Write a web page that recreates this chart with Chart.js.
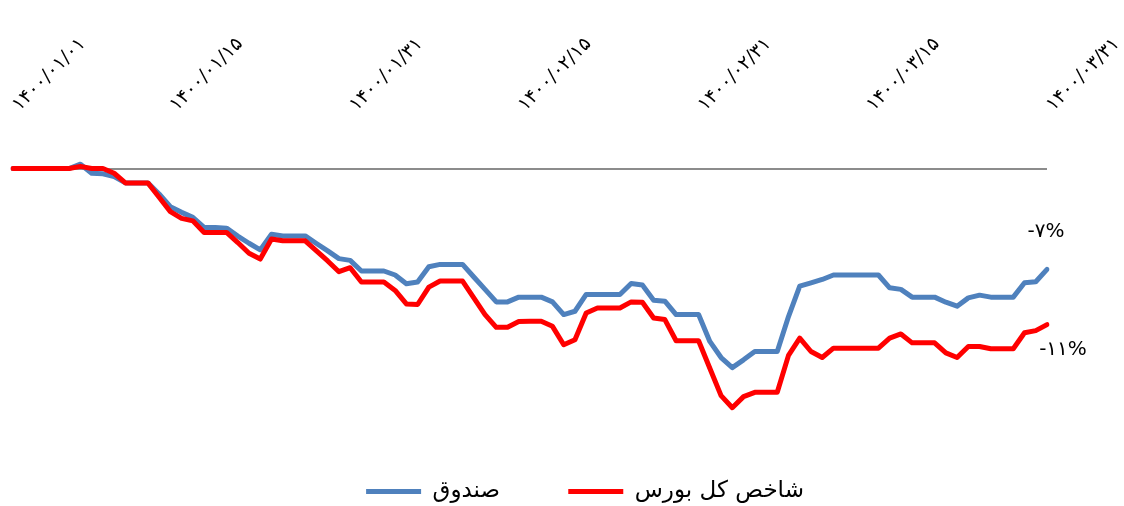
<!DOCTYPE html>
<html lang="fa" dir="ltr">
<head>
<meta charset="utf-8">
<title>صندوق و شاخص کل بورس</title>
<script src="https://cdn.jsdelivr.net/npm/chart.js@4.4.1/dist/chart.umd.min.js"></script>
<style>
  html, body { margin: 0; padding: 0; background: #fff; }
  #wrap { width: 1124px; height: 506px; position: relative; }
</style>
</head>
<body>
<div id="wrap"><canvas id="chart"></canvas></div>
<script>
// categories: every day from 1400/01/01 to 1400/03/31
const months = ['01', '02', '03'];
const toFa = s => s.replace(/\d/g, d => '۰۱۲۳۴۵۶۷۸۹'[d]);
const dates = [];
months.forEach(m => {
    for (let d = 1; d <= 31; d++) dates.push(toFa('1400/' + m + '/' + String(d).padStart(2, '0')));
});

// only these dates get a label on the axis
const shownDates = ['۱۴۰۰/۰۱/۰۱', '۱۴۰۰/۰۱/۱۵', '۱۴۰۰/۰۱/۳۱', '۱۴۰۰/۰۲/۱۵', '۱۴۰۰/۰۲/۳۱', '۱۴۰۰/۰۳/۱۵', '۱۴۰۰/۰۳/۳۱'];

const seriesNames = ['صندوق', 'شاخص کل بورس'];

// cumulative return, percent
const fund = [
    0, 0, 0, 0, 0, 0, 0.3, -0.33, -0.37, -0.56,
    -1.0, -1.0, -1.0, -1.77, -2.66, -3.05, -3.4, -4.1, -4.1, -4.15,
    -4.7, -5.2, -5.66, -4.57, -4.69, -4.69, -4.69, -5.22, -5.73, -6.27,
    -6.39, -7.13, -7.13, -7.13, -7.41, -8.02, -7.9, -6.83, -6.67, -6.67,
    -6.67, -7.55, -8.41, -9.28, -9.28, -8.95, -8.95, -8.95, -9.28, -10.16,
    -9.93, -8.76, -8.76, -8.76, -8.76, -8.0, -8.11, -9.16, -9.23, -10.16,
    -10.16, -10.16, -12.03, -13.15, -13.85, -13.31, -12.73, -12.73, -12.73, -10.3,
    -8.18, -7.95, -7.72, -7.41, -7.41, -7.41, -7.41, -7.41, -8.3, -8.41,
    -8.95, -8.95, -8.95, -9.3, -9.58, -9.0, -8.81, -8.95, -8.95, -8.95,
    -7.95, -7.88, -7.02
];

const index = [
    0, 0, 0, 0, 0, 0, 0.15, 0, 0, -0.33,
    -1.0, -1.0, -1.0, -2.0, -3.0, -3.47, -3.64, -4.45, -4.45, -4.45,
    -5.15, -5.9, -6.3, -4.9, -5.03, -5.03, -5.03, -5.73, -6.43, -7.18,
    -6.9, -7.9, -7.9, -7.9, -8.48, -9.42, -9.46, -8.25, -7.83, -7.83,
    -7.83, -9.0, -10.16, -11.05, -11.05, -10.65, -10.63, -10.63, -10.98, -12.26,
    -11.91, -10.05, -9.7, -9.7, -9.7, -9.28, -9.3, -10.4, -10.51, -11.98,
    -11.98, -11.98, -13.9, -15.8, -16.64, -15.87, -15.57, -15.57, -15.57, -13.0,
    -11.8, -12.73, -13.15, -12.5, -12.5, -12.5, -12.5, -12.5, -11.8, -11.51,
    -12.13, -12.13, -12.13, -12.83, -13.15, -12.38, -12.38, -12.54, -12.54, -12.54,
    -11.43, -11.28, -10.86
];

// text written at the end of each line
const endLabels = ['-۷%', '-۱۱%'];

const FONT = '"DejaVu Sans", sans-serif';

const endLabelPlugin = {
    id: 'endLabels',
    afterDatasetsDraw(chart) {
        const ctx = chart.ctx;
        const offsets = [[-1, -38], [16, 25]];
        ctx.save();
        ctx.font = '20px ' + FONT;
        ctx.fillStyle = '#000';
        ctx.textAlign = 'center';
        ctx.textBaseline = 'middle';
        chart.data.datasets.forEach((ds, i) => {
            const pts = chart.getDatasetMeta(i).data;
            const p = pts[pts.length - 1];
            ctx.fillText(endLabels[i], p.x + offsets[i][0], p.y + offsets[i][1]);
        });
        ctx.restore();
    }
};

// nudge the legend down/right a bit, like the excel original
const legendShift = {
    id: 'legendShift',
    afterLayout(chart) {
        const lg = chart.legend;
        lg.top += 7; lg.bottom += 7;
        lg.left += 55; lg.right += 55;
    }
};

const ctx = document.getElementById('chart');

let returnChart = new Chart(ctx, {
    type: 'line',
    data: {
        labels: dates,
        datasets: [
            {
                label: seriesNames[0],
                data: fund,
                borderColor: '#4F81BD',
                backgroundColor: '#4F81BD',
                borderWidth: 5,
                borderCapStyle: 'round',
                borderJoinStyle: 'round',
                pointRadius: 0,
                order: 2
            },
            {
                label: seriesNames[1],
                data: index,
                borderColor: '#FF0000',
                backgroundColor: '#FF0000',
                borderWidth: 5,
                borderCapStyle: 'round',
                borderJoinStyle: 'round',
                pointRadius: 0,
                order: 1
            }
        ]
    },
    options: {
        responsive: true,
        maintainAspectRatio: false,
        animation: false,
        layout: {
            padding: { left: 13, right: 77, top: 0, bottom: 0 }
        },
        scales: {
            x: {
                position: 'top',
                grid: { display: false, drawTicks: false },
                border: { display: false },
                ticks: {
                    autoSkip: false,
                    minRotation: 45,
                    maxRotation: 45,
                    padding: -5,
                    labelOffset: 19,
                    color: '#000',
                    font: { family: FONT, size: 19 },
                    callback: function (v, i) {
                        const lab = dates[i];
                        return shownDates.includes(lab) ? lab : '';
                    }
                },
                afterFit: s => {
                    s.height = 111;
                    s.paddingLeft = 0;
                    s.paddingRight = 0;
                }
            },
            y: {
                min: -20,
                max: 4,
                ticks: { display: false, stepSize: 2 },
                border: { display: false },
                grid: {
                    drawTicks: false,
                    lineWidth: 2,
                    color: c => (c.tick && c.tick.value === 0) ? '#8C8C8C' : 'rgba(0,0,0,0)'
                }
            }
        },
        plugins: {
            tooltip: { enabled: false },
            legend: {
                position: 'bottom',
                labels: {
                    usePointStyle: true,
                    pointStyle: 'line',
                    pointStyleWidth: 55,
                    padding: 17,
                    color: '#000',
                    font: { family: FONT, size: 23 },
                    sort: (a, b) => a.datasetIndex - b.datasetIndex,
                    generateLabels: chart => Chart.defaults.plugins.legend.labels.generateLabels(chart)
                        .map(l => l.datasetIndex === 0 ? Object.assign(l, { text: l.text + '       ' }) : l)
                }
            }
        }
    },
    plugins: [endLabelPlugin, legendShift]
});
</script>
</body>
</html>
